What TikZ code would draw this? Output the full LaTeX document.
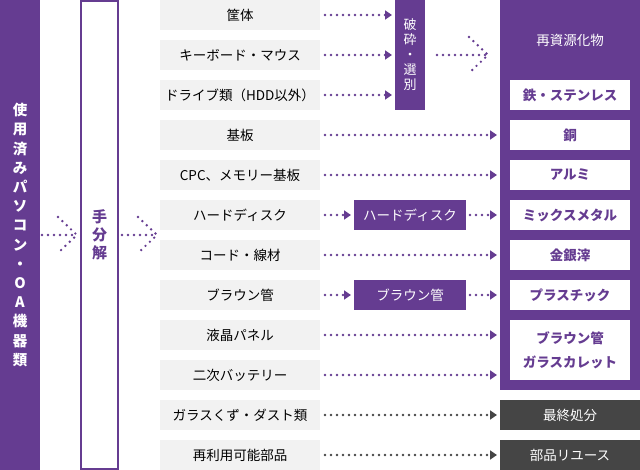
\documentclass[tikz,border=0pt]{standalone}
\usepackage{fontspec}
\setmainfont{Noto Sans CJK JP}
\usetikzlibrary{positioning,arrows.meta,calc}

\definecolor{recpurple}{RGB}{101,60,145}
\definecolor{partgray}{RGB}{242,242,242}
\definecolor{endgray}{RGB}{69,69,69}

\begin{document}
\begin{tikzpicture}[
    x=1pt, y=-1pt,
    every node/.style={inner sep=0pt,outer sep=0pt},
    part/.style={fill=partgray,minimum width=160pt,minimum height=30pt,
        font=\fontsize{13.5}{16}\selectfont},
    purplebox/.style={fill=recpurple,text=white,align=center},
    outbox/.style={fill=white,text=recpurple,minimum width=120pt,minimum height=30pt,
        align=center,font=\fontsize{13.5}{24}\selectfont\bfseries},
    endbox/.style={fill=endgray,text=white,minimum width=140pt,minimum height=30pt,
        font=\fontsize{13.5}{16}\selectfont},
    dotline/.style={line width=2.7pt,line cap=round,dash pattern=on 0pt off 6pt},
    flow/.style={dotline,draw=recpurple,-{Triangle[length=7pt,width=9pt]},shorten >=3pt},
    grayflow/.style={flow,draw=endgray}
]
\useasboundingbox (0,0) rectangle (640,470);

% input and hand dismantling
\node[purplebox,minimum width=40pt,minimum height=470pt,
      font=\fontsize{14.5}{19.2}\selectfont\bfseries] (pc) at (20,235)
      {使\\用\\済\\み\\パ\\ソ\\コ\\ン\\・\\O\\A\\機\\器\\類};
\node[draw=recpurple,line width=2pt,minimum width=37.5pt,minimum height=468pt,
      text=recpurple,align=center,font=\fontsize{15}{18}\selectfont\bfseries]
      (hand) at (99.7,235) {手\\分\\解};

% parts
\foreach \lbl [count=\i from 0] in {筐体,キーボード・マウス,ドライブ類（HDD以外）,基板,
    CPC、メモリー基板,ハードディスク,コード・線材,ブラウン管,液晶パネル,二次バッテリー,
    ガラスくず・ダスト類,再利用可能部品}
  \node[part] (p\i) at (240,{15+40*\i}) {\lbl};

% intermediate treatment
\node[purplebox,minimum width=30pt,minimum height=110pt,
      font=\fontsize{13}{15}\selectfont] (crush) at (410,55) {破\\砕\\・\\選\\別};
\node[purplebox,minimum width=112pt,minimum height=30pt,
      font=\fontsize{13.5}{16}\selectfont] (hdd) at (410,215) {ハードディスク};
\node[purplebox,minimum width=112pt,minimum height=30pt,
      font=\fontsize{13.5}{16}\selectfont] (crt) at (410,295) {ブラウン管};

% outputs
\node[purplebox,minimum width=140pt,minimum height=390pt] (res) at (570,195) {};
\node[text=white,font=\fontsize{13.5}{16}\selectfont] (restitle) at (570,40) {再資源化物};
\foreach \lbl [count=\i from 0] in {鉄・ステンレス,銅,アルミ,ミックスメタル,金銀滓,プラスチック}
  \node[outbox] (r\i) at (570,{95+40*\i}) {\lbl};
\node[outbox,minimum height=60pt] (glass) at (570,350) {ブラウン管\\ガラスカレット};
\node[endbox] (disp) at (570,415) {最終処分};
\node[endbox] (reuse) at (570,455) {部品リユース};

% flows
\foreach \i in {0,1,2}
  \draw[flow] ([xshift=5pt]p\i.east) -- (p\i.east -| crush.west);
\foreach \i in {3,4,6,8,9}
  \draw[flow] ([xshift=5pt]p\i.east) -- (p\i.east -| res.west);
\draw[flow] ([xshift=5pt]p5.east) -- (hdd.west);
\draw[flow] ([xshift=4pt]hdd.east) -- (hdd.east -| res.west);
\draw[flow] ([xshift=5pt]p7.east) -- (crt.west);
\draw[flow] ([xshift=4pt]crt.east) -- (crt.east -| res.west);
\draw[grayflow] ([xshift=5pt]p10.east) -- (disp.west);
\draw[grayflow] ([xshift=5pt]p11.east) -- (reuse.west);

% dotted chevrons
\coordinate (c1s) at ([xshift=2pt]pc.east);
\coordinate (c1e) at ([xshift=-4pt]hand.west);
\coordinate (c2s) at ([xshift=3.5pt]hand.east);
\coordinate (c2e) at ([xshift=-3pt]hand.east -| p5.west);
\coordinate (c3s) at ([xshift=12pt]crush.east);
\coordinate (c3e) at ([xshift=-12pt]res.west |- crush.east);
\foreach \s/\e in {c1s/c1e,c2s/c2e,c3s/c3e} {
  \draw[dotline,draw=recpurple] (\s) -- (\e);
  \draw[dotline,draw=recpurple] ($(\e)+(-19,-18)$) -- (\e) -- ($(\e)+(-19,18)$);
}
\end{tikzpicture}
\end{document}
